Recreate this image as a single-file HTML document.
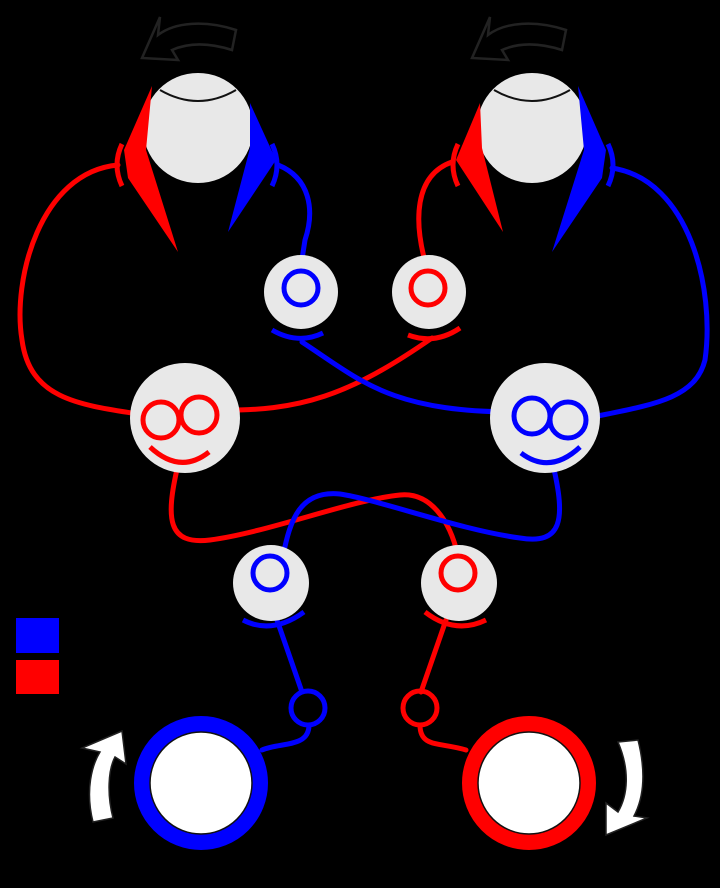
<!DOCTYPE html>
<html><head><style>html,body{margin:0;padding:0;background:#000}svg{display:block}</style></head><body>
<svg width="720" height="888" viewBox="0 0 720 888" xmlns="http://www.w3.org/2000/svg">
<rect width="720" height="888" fill="#000"/>
<g fill="none" stroke-width="5" stroke-linecap="round">
<!-- red connectors -->
<path d="M118,165 C40,172 12,280 22,340 C30,400 80,405 145,415" stroke="#f00"/>
<path d="M215,410 C300,412 350,395 432,338" stroke="#f00"/>
<path d="M452,162 C415,175 412,220 428,272" stroke="#f00"/>
<path d="M178,465 C165,520 168,545 210,540 C270,532 350,500 400,495 C430,492 450,520 458,556" stroke="#f00"/>
<path d="M446,620 L421,692" stroke="#f00"/>
<path d="M420,725 C420,748 440,742 466,750" stroke="#f00"/>
<!-- blue connectors -->
<path d="M278,165 C310,178 315,210 305,240 L300,272" stroke="#00f"/>
<path d="M302,342 C360,380 390,412 516,412" stroke="#00f"/>
<path d="M612,168 C690,180 715,290 705,360 C695,400 650,405 588,418" stroke="#00f"/>
<path d="M553,465 C566,520 562,545 520,538 C460,530 380,500 340,494 C300,490 290,520 283,556" stroke="#00f"/>
<path d="M277,620 L302,692" stroke="#00f"/>
<path d="M309,725 C309,748 280,742 262,750" stroke="#00f"/>
</g>
<!-- top arrows (outline) -->
<path d="M236,30 C205,20 175,22 158,35 L160,17 L142,58 L178,60 L172,50 C190,42 210,43 232,50 Z" fill="none" stroke="#222" stroke-width="2.5"/>
<path d="M566,30 C535,20 505,22 488,35 L490,17 L472,58 L508,60 L502,50 C520,42 540,43 562,50 Z" fill="none" stroke="#222" stroke-width="2.5"/>
<!-- eyes -->
<circle cx="198" cy="128" r="55" fill="#e8e8e8"/>
<path d="M160,90 Q198,112 236,90" fill="none" stroke="#111" stroke-width="2"/>
<circle cx="532" cy="128" r="55" fill="#e8e8e8"/>
<path d="M494,90 Q532,112 570,90" fill="none" stroke="#111" stroke-width="2"/>
<!-- wedges -->
<path d="M152,86 L124,150 L128,178 L178,252 L146,150 Z" fill="#f00"/>
<path d="M250,103 L276,160 L228,232 L250,148 Z" fill="#00f"/>
<path d="M480,103 L456,160 L503,232 L482,148 Z" fill="#f00"/>
<path d="M578,86 L606,150 L602,178 L552,252 L584,150 Z" fill="#00f"/>
<!-- brackets -->
<g fill="none" stroke-width="5">
<path d="M122,144 Q112,165 122,186" stroke="#f00"/>
<path d="M272,144 Q282,165 272,186" stroke="#00f"/>
<path d="M458,144 Q448,165 458,186" stroke="#f00"/>
<path d="M608,144 Q618,165 608,186" stroke="#00f"/>
</g>
<!-- small nodes -->
<circle cx="301" cy="292" r="37" fill="#e8e8e8"/>
<circle cx="301" cy="288" r="17" fill="none" stroke="#00f" stroke-width="5"/>
<circle cx="429" cy="292" r="37" fill="#e8e8e8"/>
<circle cx="428" cy="288" r="17" fill="none" stroke="#f00" stroke-width="5"/>
<path d="M272,330 Q298,345 323,333" fill="none" stroke="#00f" stroke-width="5"/>
<path d="M408,335 Q435,345 460,328" fill="none" stroke="#f00" stroke-width="5"/>
<!-- big nodes -->
<circle cx="185" cy="418" r="55" fill="#e8e8e8"/>
<g fill="none" stroke="#f00" stroke-width="5">
<circle cx="161" cy="420" r="18"/><circle cx="199" cy="415" r="18"/>
<path d="M150,447 Q180,475 209,452"/>
</g>
<circle cx="545" cy="418" r="55" fill="#e8e8e8"/>
<g fill="none" stroke="#00f" stroke-width="5">
<circle cx="532" cy="416" r="18"/><circle cx="568" cy="420" r="18"/>
<path d="M521,453 Q550,475 580,447"/>
</g>
<!-- lower nodes -->
<circle cx="271" cy="583" r="38" fill="#e8e8e8"/>
<circle cx="270" cy="573" r="17" fill="none" stroke="#00f" stroke-width="5"/>
<path d="M243,620 Q272,635 304,612" fill="none" stroke="#00f" stroke-width="5"/>
<circle cx="459" cy="583" r="38" fill="#e8e8e8"/>
<circle cx="458" cy="573" r="17" fill="none" stroke="#f00" stroke-width="5"/>
<path d="M425,612 Q455,635 486,620" fill="none" stroke="#f00" stroke-width="5"/>
<!-- small circles -->
<circle cx="308" cy="708" r="17" fill="none" stroke="#00f" stroke-width="5"/>
<circle cx="420" cy="708" r="17" fill="none" stroke="#f00" stroke-width="5"/>
<!-- bottom rings -->
<circle cx="201" cy="783" r="59" fill="#fff" stroke="#00f" stroke-width="16"/>
<circle cx="201" cy="783" r="51" fill="none" stroke="#111" stroke-width="1.5"/>
<circle cx="529" cy="783" r="59" fill="#fff" stroke="#f00" stroke-width="16"/>
<circle cx="529" cy="783" r="51" fill="none" stroke="#111" stroke-width="1.5"/>
<!-- white arrows -->
<path d="M93,822 C85,790 92,765 100,752 L82,748 L122,731 L126,764 L115,757 C108,770 107,795 113,818 Z" fill="#fff" stroke="#222" stroke-width="1.5"/>
<path d="M618,742 C630,770 628,795 618,812 L606,803 L606,835 L647,818 L634,816 C645,795 645,768 638,740 Z" fill="#fff" stroke="#222" stroke-width="1.5"/>
<!-- legend -->
<rect x="16" y="618" width="43" height="35" fill="#00f"/>
<rect x="16" y="660" width="43" height="34" fill="#f00"/>
</svg>
</body></html>
